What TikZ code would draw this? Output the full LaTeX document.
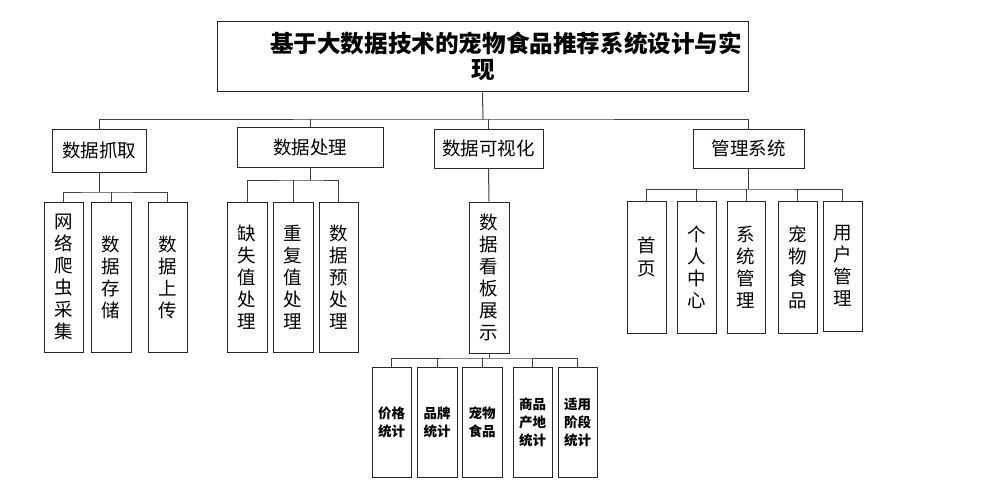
\documentclass[tikz,border=0pt]{standalone}
\usepackage{fontspec}
\newfontfamily\cjk{Noto Sans CJK SC}
\begin{document}
\begin{tikzpicture}[x=1pt,y=-1pt,
  every node/.style={font=\cjk},
  bx/.style={draw=black!85,line width=1pt,inner sep=0pt,minimum width=#1},
  bx/.default=40pt,
  top/.style={bx=#1,minimum height=40pt,font=\cjk\fontsize{18.5}{22}\selectfont},
  leaf/.style={bx=#1,minimum height=150pt,align=center,font=\cjk\fontsize{18.5}{22}\selectfont},
  leaf/.default=40pt,
  mleaf/.style={bx=#1,minimum height=132pt,align=center,font=\cjk\fontsize{18.5}{22}\selectfont},
  mleaf/.default=39pt,
  sleaf/.style={bx=#1,minimum height=110pt,align=center,font=\cjk\bfseries\fontsize{13.5}{18}\selectfont},
  sleaf/.default=39pt,
  txt/.style={inner sep=0pt,align=center},
  ttl/.style={txt,font=\cjk\bfseries\fontsize{23.6}{27}\selectfont},
  con/.style={draw=black!75,line width=1pt}]
\useasboundingbox[fill=white] (0,0) rectangle (981,484);

% title
\node[bx=531pt,minimum height=70pt] (title) at (482.5,57) {};
\node[ttl] (t1) at (506,43) {基于大数据技术的宠物食品推荐系统设计与实};
\node[ttl] (t2) at (483,70) {现};

% level 1
\node[top=94pt,minimum height=43pt] (n1) at (99,150.5) {数据抓取};
\node[top=146pt] (n2) at (310,147) {数据处理};
\node[top=109pt,minimum height=39pt] (n3) at (488.5,148.5) {数据可视化};
\node[top=111pt,minimum height=39pt] (n4) at (748.5,148.5) {管理系统};

\coordinate (b0) at (483,119);
\draw[con] (title.south) -- (b0);
\draw[con] (n1.north) |- (b0) -| (n4.north);
\draw[con] (n2.north) -- (n2.north |- b0);
\draw[con] (n3.north) -- (n3.north |- b0);

% group 1
\node[leaf=39pt] (a1) at (63.5,277) {网\\络\\爬\\虫\\采\\集};
\node[leaf] (a2) at (111,277) {数\\据\\存\\储};
\node[leaf=39pt] (a3) at (167.5,277) {数\\据\\上\\传};
\coordinate (g1) at (99,192);
\draw[con] (n1.south) -- (g1);
\draw[con] (a1.north) |- (g1) -| (a3.north);
\draw[con] (a2.north) -- (a2.north |- g1);

% group 2
\node[leaf] (c1) at (247,277) {缺\\失\\值\\处\\理};
\node[leaf] (c2) at (293,277) {重\\复\\值\\处\\理};
\node[leaf=39pt] (c3) at (338.5,277) {数\\据\\预\\处\\理};
\coordinate (g2) at (310,180);
\draw[con] (n2.south) -- (g2);
\draw[con] (c1.north) |- (g2) -| (c3.north);
\draw[con] (c2.north) -- (c2.north |- g2);

% group 3
\node[leaf,minimum height=151pt] (d0) at (489,277.5) {数\\据\\看\\板\\展\\示};
\draw[con] (n3.south) -- (d0.north);
\node[sleaf] (e1) at (391.5,422) {价格\\统计};
\node[sleaf=40pt] (e2) at (437,422) {品牌\\统计};
\node[sleaf=40pt] (e3) at (482,422) {宠物\\食品};
\node[sleaf] (e4) at (532.5,422) {商品\\产地\\统计};
\node[sleaf] (e5) at (577.5,422) {适用\\阶段\\统计};
\coordinate (g3) at (489,358);
\draw[con] (d0.south) -- (g3);
\draw[con] (e1.north) |- (g3) -| (e5.north);
\draw[con] (e2.north) -- (e2.north |- g3);
\draw[con] (e3.north) -- (e3.north |- g3);
\draw[con] (e4.north) -- (e4.north |- g3);

% group 4
\node[mleaf] (h1) at (646.5,267.5) {};
\node[txt,font=\cjk\fontsize{18.5}{23}\selectfont] (h1t) at (646.5,256.5) {首\\页};
\node[mleaf] (h2) at (696.5,267.5) {个\\人\\中\\心};
\node[mleaf=38pt] (h3) at (746,267.5) {系\\统\\管\\理};
\node[mleaf] (h4) at (797.5,267.5) {宠\\物\\食\\品};
\node[mleaf,minimum height=130pt] (h5) at (842.5,266) {用\\户\\管\\理};
\coordinate (g4) at (748.5,189);
\draw[con] (n4.south) -- (g4);
\draw[con] (h1.north) |- (g4) -| (h5.north);
\draw[con] (h2.north) -- (h2.north |- g4);
\draw[con] (h3.north) -- (h3.north |- g4);
\draw[con] (h4.north) -- (h4.north |- g4);
\end{tikzpicture}
\end{document}
